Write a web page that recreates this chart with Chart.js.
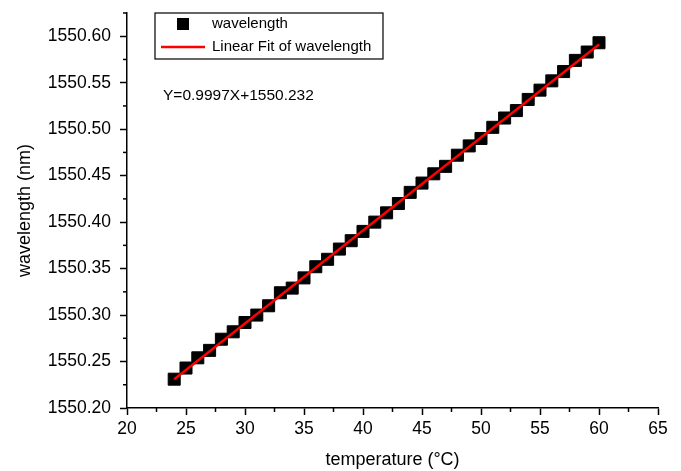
<!DOCTYPE html>
<html>
<head>
<meta charset="utf-8">
<script src="https://cdn.jsdelivr.net/npm/chart.js@4"></script>
<style>
  body { margin: 0; background: #fff; }
  canvas { display: block; }
</style>
</head>
<body>
<canvas id="chart" width="681" height="471"></canvas>
<script>
// measured data (temperature in °C, wavelength in nm)
const temperature = [24, 25, 26, 27, 28, 29, 30, 31, 32, 33, 34, 35, 36, 37, 38, 39, 40, 41, 42,
    43, 44, 45, 46, 47, 48, 49, 50, 51, 52, 53, 54, 55, 56, 57, 58, 59, 60];
const wavelength = [1550.231, 1550.243, 1550.254, 1550.262, 1550.274, 1550.282, 1550.292, 1550.300,
    1550.310, 1550.324, 1550.329, 1550.340, 1550.352, 1550.360, 1550.371, 1550.380, 1550.390,
    1550.400, 1550.410, 1550.420, 1550.432, 1550.442, 1550.452, 1550.460, 1550.472, 1550.482,
    1550.490, 1550.502, 1550.512, 1550.520, 1550.532, 1550.542, 1550.552, 1550.562, 1550.574,
    1550.583, 1550.593];

// linear fit end points
const fitX = [24, 60];
const fitY = [1550.231, 1550.591];

const xTicks = [20, 25, 30, 35, 40, 45, 50, 55, 60, 65];
const yTicks = [1550.20, 1550.25, 1550.30, 1550.35, 1550.40, 1550.45, 1550.50, 1550.55, 1550.60];
const fitEquation = 'Y=0.9997X+1550.232';

const FONT = "'Liberation Sans', Arial, sans-serif";

// minor ticks half way between the major ones
const minorTicks = {
    id: 'minorTicks',
    afterDraw(chart) {
        const ctx = chart.ctx;
        ctx.save();
        ctx.strokeStyle = '#000';
        ctx.lineWidth = 1.5;
        const x = chart.scales.x, y = chart.scales.y;
        for (let i = 0; i < xTicks.length - 1; i++) {
            const px = x.getPixelForValue((xTicks[i] + xTicks[i + 1]) / 2);
            ctx.beginPath();
            ctx.moveTo(px, x.top);
            ctx.lineTo(px, x.top + 4);
            ctx.stroke();
        }
        const step = yTicks[1] - yTicks[0];
        for (let i = 0; i < yTicks.length; i++) {
            const v = yTicks[i] + step / 2;
            if (v > y.max + 1e-9) break;
            const py = y.getPixelForValue(v);
            ctx.beginPath();
            ctx.moveTo(y.right, py);
            ctx.lineTo(y.right - 4, py);
            ctx.stroke();
        }
        ctx.restore();
    }
};

// boxed legend inside the plot, plus the fit equation
const boxLegend = {
    id: 'boxLegend',
    afterDraw(chart) {
        const ctx = chart.ctx;
        const area = chart.chartArea;
        const left = area.left + 28, top = area.top;
        const w = 228, h = 46;
        ctx.save();
        ctx.fillStyle = '#fff';
        ctx.fillRect(left, top, w, h);
        ctx.strokeStyle = '#000';
        ctx.lineWidth = 1.2;
        ctx.strokeRect(left, top, w, h);

        const points = chart.data.datasets[1];
        const fit = chart.data.datasets[0];
        ctx.fillStyle = points.backgroundColor;
        ctx.fillRect(left + 22, top + 5, 12, 12);
        ctx.strokeStyle = fit.borderColor;
        ctx.lineWidth = 2.5;
        ctx.beginPath();
        ctx.moveTo(left + 6, top + 34);
        ctx.lineTo(left + 50, top + 34);
        ctx.stroke();

        ctx.fillStyle = '#000';
        ctx.font = '15px ' + FONT;
        ctx.textBaseline = 'middle';
        ctx.fillText(points.label, left + 57, top + 11);
        ctx.fillText(fit.label, left + 57, top + 34);

        ctx.font = '15.5px ' + FONT;
        ctx.fillText(fitEquation, area.left + 36, 96);
        ctx.restore();
    }
};

const axisStyle = {
    border: { display: true, color: '#000', width: 1.5 },
    grid: { drawOnChartArea: false, drawTicks: true, tickLength: 7, tickColor: '#000', tickWidth: 1.5 }
};

new Chart(document.getElementById('chart'), {
    type: 'scatter',
    data: {
        datasets: [{
            label: 'Linear Fit of wavelength',
            data: fitX.map((x, i) => ({ x: x, y: fitY[i] })),
            showLine: true,
            borderColor: '#ff0000',
            borderWidth: 2.5,
            pointRadius: 0,
            order: 0
        }, {
            label: 'wavelength',
            data: temperature.map((t, i) => ({ x: t, y: wavelength[i] })),
            pointStyle: 'rect',
            pointRadius: 8.5,
            backgroundColor: '#000',
            borderColor: '#000',
            borderWidth: 1,
            order: 1
        }]
    },
    options: {
        responsive: false,
        animation: false,
        layout: { padding: { top: 13, right: 23, left: 0, bottom: 0 } },
        plugins: { legend: { display: false }, tooltip: { enabled: false } },
        scales: {
            x: {
                ...axisStyle,
                min: 20,
                max: 65,
                afterFit: scale => { scale.height = 63; scale.paddingLeft = 0; scale.paddingRight = 0; },
                afterBuildTicks: scale => { scale.ticks = xTicks.map(v => ({ value: v })); },
                ticks: { color: '#000', padding: 4, font: { family: FONT, size: 17.5 } },
                title: {
                    display: true,
                    text: 'temperature (°C)',
                    color: '#000',
                    padding: { top: 0, bottom: 0 },
                    font: { family: FONT, size: 18 }
                }
            },
            y: {
                ...axisStyle,
                min: 1550.20,
                max: 1550.625,
                afterFit: scale => { scale.width = 127; scale.paddingTop = 0; scale.paddingBottom = 0; },
                afterBuildTicks: scale => { scale.ticks = yTicks.map(v => ({ value: v })); },
                ticks: {
                    color: '#000',
                    padding: 9,
                    font: { family: FONT, size: 17.5 },
                    callback: v => Number(v).toFixed(2)
                },
                title: {
                    display: true,
                    text: 'wavelength (nm)',
                    color: '#000',
                    padding: { top: 14, bottom: 0 },
                    font: { family: FONT, size: 18 }
                }
            }
        }
    },
    plugins: [minorTicks, boxLegend]
});
</script>
</body>
</html>
